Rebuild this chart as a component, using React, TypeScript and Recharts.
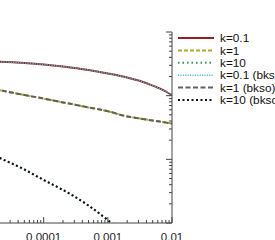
import { LineChart, Line, XAxis, YAxis } from "recharts";

// x values (log axis) and curves
const xValues = [1e-5, 2e-5, 5e-5, 1e-4, 2e-4, 5e-4, 1e-3, 2e-3, 3e-3, 5e-3, 8e-3, 1e-2];
const k01 = [0.35, 0.342, 0.326, 0.309, 0.287, 0.253, 0.223, 0.193, 0.173, 0.144, 0.1163, 0.1006];
const k1 = [0.1419, 0.1228, 0.1025, 0.09, 0.0784, 0.0654, 0.0569, 0.0471, 0.0441, 0.0407, 0.0379, 0.0365];
const k10 = [0.01507, 0.01069, 0.00694, 0.00474, 0.0033, 0.00188, 0.00111, 0.000625, 0.000451, 0.000282, 0.000176, 0.000137];
const k01Bkso = [0.35, 0.342, 0.326, 0.309, 0.287, 0.253, 0.223, 0.193, 0.173, 0.144, 0.1163, 0.1006];
const k1Bkso = [0.1419, 0.1228, 0.1025, 0.09, 0.0784, 0.0654, 0.0569, 0.0471, 0.0441, 0.0407, 0.0379, 0.0365];
const k10Bkso = [0.01507, 0.01069, 0.00694, 0.00474, 0.0033, 0.00188, 0.00111, 0.000625, 0.000451, 0.000282, 0.000176, 0.000137];

const xMajors = [1e-5, 1e-4, 1e-3, 1e-2];
const xLabels = ["1e-05", "0.0001", "0.001", "0.01"];
const yMajors = [1e-3, 1e-2, 1e-1, 1];

const data = xValues.map((x, i) => ({
  x,
  k01: k01[i],
  k1: k1[i],
  k10: k10[i],
  k01b: k01Bkso[i],
  k1b: k1Bkso[i],
  k10b: k10Bkso[i],
}));

const series = [
  { key: "k01", name: "k=0.1", color: "#9b1b1f", dash: undefined, width: 2 },
  { key: "k1", name: "k=1", color: "#b3a81e", dash: "4 2", width: 2 },
  { key: "k10", name: "k=10", color: "#2e9463", dash: "1.5 3", width: 2 },
  { key: "k01b", name: "k=0.1 (bkso)", color: "#4cc4c9", dash: "1.2 1.2", width: 1.5 },
  { key: "k1b", name: "k=1 (bkso)", color: "#5f5f5f", dash: "5 2.5", width: 2 },
  { key: "k10b", name: "k=10 (bkso)", color: "#111111", dash: "2 2.5", width: 2 },
];

const minors = (majors: number[]) => {
  const out: number[] = [];
  majors.forEach((m, i) => {
    out.push(m);
    if (i < majors.length - 1) for (let j = 2; j < 10; j++) out.push(m * j);
  });
  return out;
};
const xTicks = minors(xMajors);
const yTicks = minors(yMajors);

const isMajor = (v: number, majors: number[]) => majors.some((m) => Math.abs(v / m - 1) < 1e-6);
const axisColor = "#444";
const font = '"Liberation Sans", Arial, sans-serif';

function BottomTick(props: any) {
  const { x, y, payload } = props;
  const major = isMajor(payload.value, xMajors);
  const idx = xMajors.findIndex((m) => Math.abs(payload.value / m - 1) < 1e-6);
  return (
    <g>
      <line x1={x} x2={x} y1={y} y2={y - (major ? 6 : 3)} stroke={axisColor} />
      {major && idx > 0 && (
        <text x={x} y={y + 18} textAnchor="middle" fontSize={11.5} fill="#222" fontFamily={font}>
          {xLabels[idx]}
        </text>
      )}
    </g>
  );
}

function TopTick(props: any) {
  const { x, y, payload } = props;
  const major = isMajor(payload.value, xMajors);
  return <line x1={x} x2={x} y1={y} y2={y + (major ? 6 : 3)} stroke={axisColor} />;
}

function RightTick(props: any) {
  const { x, y, payload } = props;
  const major = isMajor(payload.value, yMajors);
  return <line x1={x} x2={x - (major ? 6 : 3)} y1={y} y2={y} stroke={axisColor} />;
}

export default function App() {
  return (
    <div style={{ position: "fixed", left: 0, top: 0, width: 275, height: 240, overflow: "hidden", background: "#fff" }}>
      <div style={{ position: "absolute", left: -60, top: 0 }}>
        <LineChart width={337} height={260} data={data} margin={{ top: 32, right: 100, left: 39.5, bottom: 17 }}>
          <XAxis
            dataKey="x"
            type="number"
            scale="log"
            domain={[1e-5, 1e-2]}
            allowDataOverflow
            ticks={xTicks}
            interval={0}
            height={20}
            tickSize={0}
            tickMargin={0}
            tick={<BottomTick />}
            tickLine={false}
            axisLine={{ stroke: axisColor }}
          />
          <XAxis
            xAxisId="top"
            orientation="top"
            dataKey="x"
            type="number"
            scale="log"
            domain={[1e-5, 1e-2]}
            allowDataOverflow
            ticks={xTicks}
            interval={0}
            height={0}
            tickSize={0}
            tickMargin={0}
            tick={<TopTick />}
            tickLine={false}
            axisLine={{ stroke: axisColor }}
          />
          <YAxis
            orientation="right"
            type="number"
            scale="log"
            domain={[1e-3, 1]}
            allowDataOverflow
            ticks={yTicks}
            interval={0}
            width={5}
            tickSize={0}
            tickMargin={0}
            tick={<RightTick />}
            tickLine={false}
            axisLine={{ stroke: axisColor }}
          />
          {series.map((s) => (
            <Line
              key={s.key}
              dataKey={s.key}
              type="monotone"
              stroke={s.color}
              strokeWidth={s.width}
              strokeDasharray={s.dash}
              dot={false}
              isAnimationActive={false}
            />
          ))}
        </LineChart>
      </div>
      <svg style={{ position: "absolute", left: 0, top: 0 }} width={275} height={240}>
        {series.map((s, i) => {
          const y = 38 + i * 12.4;
          return (
            <g key={s.key}>
              <line x1={178} x2={214} y1={y} y2={y} stroke={s.color} strokeWidth={s.width} strokeDasharray={s.dash} />
              <text x={220} y={y + 4.2} fontSize={11.8} fill="#111" fontFamily={font}>
                {s.name}
              </text>
            </g>
          );
        })}
      </svg>
    </div>
  );
}
